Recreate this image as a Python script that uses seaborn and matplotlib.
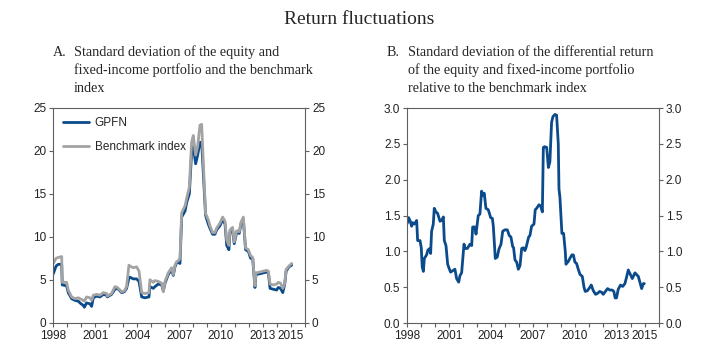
import matplotlib.pyplot as plt
import seaborn as sns
import pandas as pd

# Panel A: standard deviation, GPFN vs benchmark
years_a = [1998.00, 1998.20, 1998.36, 1998.60, 1998.64, 1998.95, 1999.07, 1999.31, 1999.55, 1999.79,
           1999.91, 2000.15, 2000.22, 2000.38, 2000.62, 2000.74, 2000.86, 2001.10, 2001.34, 2001.58,
           2001.81, 2001.86, 2002.17, 2002.41, 2002.58, 2002.77, 2002.89, 2003.08, 2003.24, 2003.41,
           2003.48, 2003.72, 2003.96, 2004.13, 2004.32, 2004.56, 2004.84, 2004.91, 2005.15, 2005.27,
           2005.51, 2005.75, 2005.87, 2005.99, 2006.22, 2006.46, 2006.58, 2006.70, 2006.82, 2006.94,
           2007.06, 2007.18, 2007.42, 2007.54, 2007.73, 2007.89, 2008.01, 2008.18, 2008.32, 2008.49,
           2008.61, 2008.89, 2009.08, 2009.20, 2009.39, 2009.56, 2009.68, 2009.92, 2010.11, 2010.28,
           2010.40, 2010.56, 2010.63, 2010.82, 2010.94, 2011.11, 2011.30, 2011.42, 2011.59, 2011.75,
           2011.95, 2012.11, 2012.26, 2012.42, 2012.49, 2012.78, 2013.02, 2013.26, 2013.38, 2013.50,
           2013.73, 2013.97, 2014.09, 2014.25, 2014.41, 2014.55, 2014.65, 2014.85, 2015.05]
gpfn = [5.7, 6.6, 6.8, 6.8, 4.4, 4.3, 3.5, 2.8, 2.6, 2.5,
        2.3, 2.0, 1.8, 2.3, 2.2, 1.9, 2.9, 3.1, 3.0, 3.3,
        3.2, 3.0, 3.3, 3.9, 4.0, 3.7, 3.5, 3.6, 4.0, 5.2,
        5.3, 5.1, 5.1, 4.8, 3.0, 2.9, 3.0, 4.2, 4.0, 4.2,
        4.5, 4.4, 3.7, 4.6, 5.6, 6.2, 5.5, 6.5, 7.0, 7.0,
        6.9, 12.3, 13.0, 14.0, 15.0, 19.8, 20.5, 18.5, 19.5, 21.0,
        21.0, 12.5, 11.5, 11.0, 10.3, 10.3, 10.8, 11.3, 12.0, 11.5,
        9.0, 8.5, 10.5, 10.8, 9.2, 10.5, 10.4, 11.5, 12.0, 8.5,
        8.3, 7.5, 7.5, 4.1, 5.6, 5.7, 5.8, 5.9, 5.8, 4.0,
        3.9, 3.8, 4.1, 4.0, 3.5, 4.5, 6.0, 6.5, 6.7]
benchmark = [6.9, 7.5, 7.6, 7.7, 4.7, 4.7, 3.8, 3.0, 2.8, 2.9,
             2.8, 2.6, 2.5, 3.0, 2.9, 2.6, 3.2, 3.3, 3.2, 3.5,
             3.4, 3.1, 3.4, 4.2, 4.1, 3.8, 3.6, 3.7, 4.2, 6.7,
             6.6, 6.4, 6.5, 6.0, 3.5, 3.4, 3.5, 5.0, 4.7, 4.9,
             4.8, 4.6, 3.6, 4.8, 5.8, 6.4, 5.6, 6.7, 7.1, 7.2,
             7.5, 12.8, 13.6, 14.5, 15.8, 21.0, 21.8, 19.5, 20.5, 23.0,
             23.1, 12.7, 12.0, 11.3, 10.5, 10.5, 11.0, 11.6, 12.3, 11.8,
             9.6, 9.0, 10.8, 11.1, 9.4, 10.7, 10.6, 11.7, 12.3, 8.7,
             8.5, 7.8, 7.6, 4.3, 5.8, 5.9, 6.0, 6.1, 6.0, 4.5,
             4.4, 4.5, 4.7, 4.6, 4.0, 4.6, 6.2, 6.6, 6.9]

# Panel B: standard deviation of differential return
years_b = [1998.00, 1998.10, 1998.21, 1998.31, 1998.38, 1998.50, 1998.67, 1998.74, 1998.91, 1999.00,
           1999.07, 1999.15, 1999.22, 1999.38, 1999.48, 1999.62, 1999.67, 1999.74, 1999.86, 1999.93,
           2000.05, 2000.17, 2000.34, 2000.46, 2000.58, 2000.65, 2000.77, 2000.89, 2000.98, 2001.10,
           2001.25, 2001.41, 2001.53, 2001.68, 2001.77, 2001.89, 2002.01, 2002.06, 2002.15, 2002.30,
           2002.49, 2002.61, 2002.68, 2002.84, 2002.92, 2003.08, 2003.20, 2003.32, 2003.42, 2003.51,
           2003.63, 2003.80, 2003.97, 2004.09, 2004.16, 2004.30, 2004.44, 2004.56, 2004.71, 2004.83,
           2004.99, 2005.16, 2005.30, 2005.42, 2005.54, 2005.61, 2005.71, 2005.83, 2005.95, 2006.07,
           2006.19, 2006.31, 2006.42, 2006.50, 2006.69, 2006.78, 2006.90, 2007.07, 2007.16, 2007.26,
           2007.43, 2007.55, 2007.67, 2007.74, 2007.83, 2007.98, 2008.10, 2008.21, 2008.33, 2008.43,
           2008.57, 2008.69, 2008.81, 2008.86, 2008.93, 2009.07, 2009.19, 2009.31, 2009.36, 2009.53,
           2009.69, 2009.79, 2009.89, 2010.00, 2010.12, 2010.24, 2010.36, 2010.53, 2010.65, 2010.74,
           2010.89, 2011.08, 2011.17, 2011.32, 2011.48, 2011.60, 2011.77, 2011.91, 2012.03, 2012.18,
           2012.34, 2012.50, 2012.67, 2012.79, 2012.88, 2012.98, 2013.10, 2013.27, 2013.42, 2013.58,
           2013.70, 2013.82, 2013.99, 2014.11, 2014.30, 2014.54, 2014.78, 2014.90, 2014.97]
diff_sd = [1.39, 1.47, 1.42, 1.35, 1.40, 1.38, 1.43, 1.15, 1.15, 1.05,
           0.78, 0.72, 0.90, 0.95, 1.02, 1.04, 0.97, 1.28, 1.38, 1.60,
           1.55, 1.53, 1.42, 1.43, 1.48, 1.15, 1.08, 0.82, 0.77, 0.71,
           0.73, 0.75, 0.62, 0.57, 0.66, 0.70, 0.98, 1.10, 1.04, 1.04,
           1.10, 1.08, 1.34, 1.34, 1.24, 1.50, 1.52, 1.84, 1.78, 1.81,
           1.60, 1.58, 1.47, 1.46, 1.35, 0.90, 0.92, 1.03, 1.10, 1.28,
           1.30, 1.30, 1.22, 1.20, 1.07, 1.05, 0.88, 0.85, 0.75, 0.80,
           1.04, 1.05, 1.01, 1.05, 1.20, 1.22, 1.35, 1.38, 1.58, 1.60,
           1.65, 1.63, 1.55, 2.45, 2.46, 2.45, 2.17, 2.25, 2.80, 2.88,
           2.91, 2.90, 2.50, 1.87, 1.75, 1.25, 1.25, 1.00, 0.82, 0.86,
           0.92, 0.95, 0.95, 0.85, 0.83, 0.75, 0.68, 0.65, 0.50, 0.44,
           0.45, 0.50, 0.53, 0.45, 0.40, 0.41, 0.44, 0.43, 0.40, 0.44,
           0.48, 0.46, 0.46, 0.44, 0.35, 0.35, 0.47, 0.53, 0.51, 0.55,
           0.64, 0.74, 0.67, 0.62, 0.70, 0.65, 0.48, 0.55, 0.55]

year_ticks = list(range(1998, 2017))
year_labels = ["1998", "2001", "2004", "2007", "2010", "2013", "2015"]

sns.set_style("ticks")
plt.rcParams['font.family'] = ['Liberation Sans', 'DejaVu Sans']

blue = "#0b4a8b"
grey = "#a3a3a3"
edge = "#5f5f5f"

fig = plt.figure(figsize=(7.19, 3.62), dpi=100)
ax1 = fig.add_axes([53.3 / 719, 39.3 / 362, 251.7 / 719, 214.7 / 362])
ax2 = fig.add_axes([407.3 / 719, 39.0 / 362, 251.4 / 719, 215.0 / 362])

df_a = pd.DataFrame({"year": years_a, "GPFN": gpfn, "Benchmark index": benchmark})
df_a = df_a.melt(id_vars="year", var_name="series", value_name="sd")
sns.lineplot(data=df_a, x="year", y="sd", hue="series", hue_order=["GPFN", "Benchmark index"],
             palette={"GPFN": blue, "Benchmark index": grey}, linewidth=2.0, ax=ax1)

df_b = pd.DataFrame({"year": years_b, "sd": diff_sd})
sns.lineplot(data=df_b, x="year", y="sd", color=blue, linewidth=2.0, ax=ax2)

ax1.set_ylim(0, 25)
ax1.set_yticks([0, 5, 10, 15, 20, 25])
ax2.set_ylim(0, 3.0)
ax2.set_yticks([0, 0.5, 1.0, 1.5, 2.0, 2.5, 3.0])
ax2.set_yticklabels([f"{v:.1f}" for v in [0, 0.5, 1.0, 1.5, 2.0, 2.5, 3.0]])

for ax in (ax1, ax2):
    ax.set_xlim(1998, 2016)
    ax.set_xticks(year_ticks)
    ax.set_xticklabels([str(y) if str(y) in year_labels else "" for y in year_ticks])
    ax.set_xlabel("")
    ax.set_ylabel("")
    for s in ax.spines.values():
        s.set_visible(True)
        s.set_color(edge)
        s.set_linewidth(0.8)
    ax.tick_params(axis="both", direction="out", length=3, width=0.8, color=edge,
                   labelsize=8.5, labelcolor="#222222", pad=2)
    ax.tick_params(axis="y", left=True, right=True, labelleft=True, labelright=True)

leg = ax1.legend(loc="upper left", frameon=False, fontsize=8.5, handlelength=2.2,
                 borderaxespad=0.2, borderpad=0.6, labelspacing=1.0, handletextpad=0.5)
leg.set_title(None)

fig.text(0.5, 1 - 19 / 362, "Return fluctuations", ha="center", va="center",
         family="Liberation Serif", size=14)

serif = "Liberation Serif"
lines_a = ["Standard deviation of the equity and",
           "fixed-income portfolio and the benchmark",
           "index"]
lines_b = ["Standard deviation of the differential return",
           "of the equity and fixed-income portfolio",
           "relative to the benchmark index"]
fig.text(53 / 719, 1 - 52 / 362, "A.", ha="left", va="center", family=serif, size=10.2)
fig.text(387 / 719, 1 - 52 / 362, "B.", ha="left", va="center", family=serif, size=10.2)
for i, line in enumerate(lines_a):
    fig.text(74 / 719, 1 - (52 + 18 * i) / 362, line, ha="left", va="center", family=serif, size=10.2)
for i, line in enumerate(lines_b):
    fig.text(408 / 719, 1 - (52 + 18 * i) / 362, line, ha="left", va="center", family=serif, size=10.2)

fig.savefig("out.png", dpi=100)
